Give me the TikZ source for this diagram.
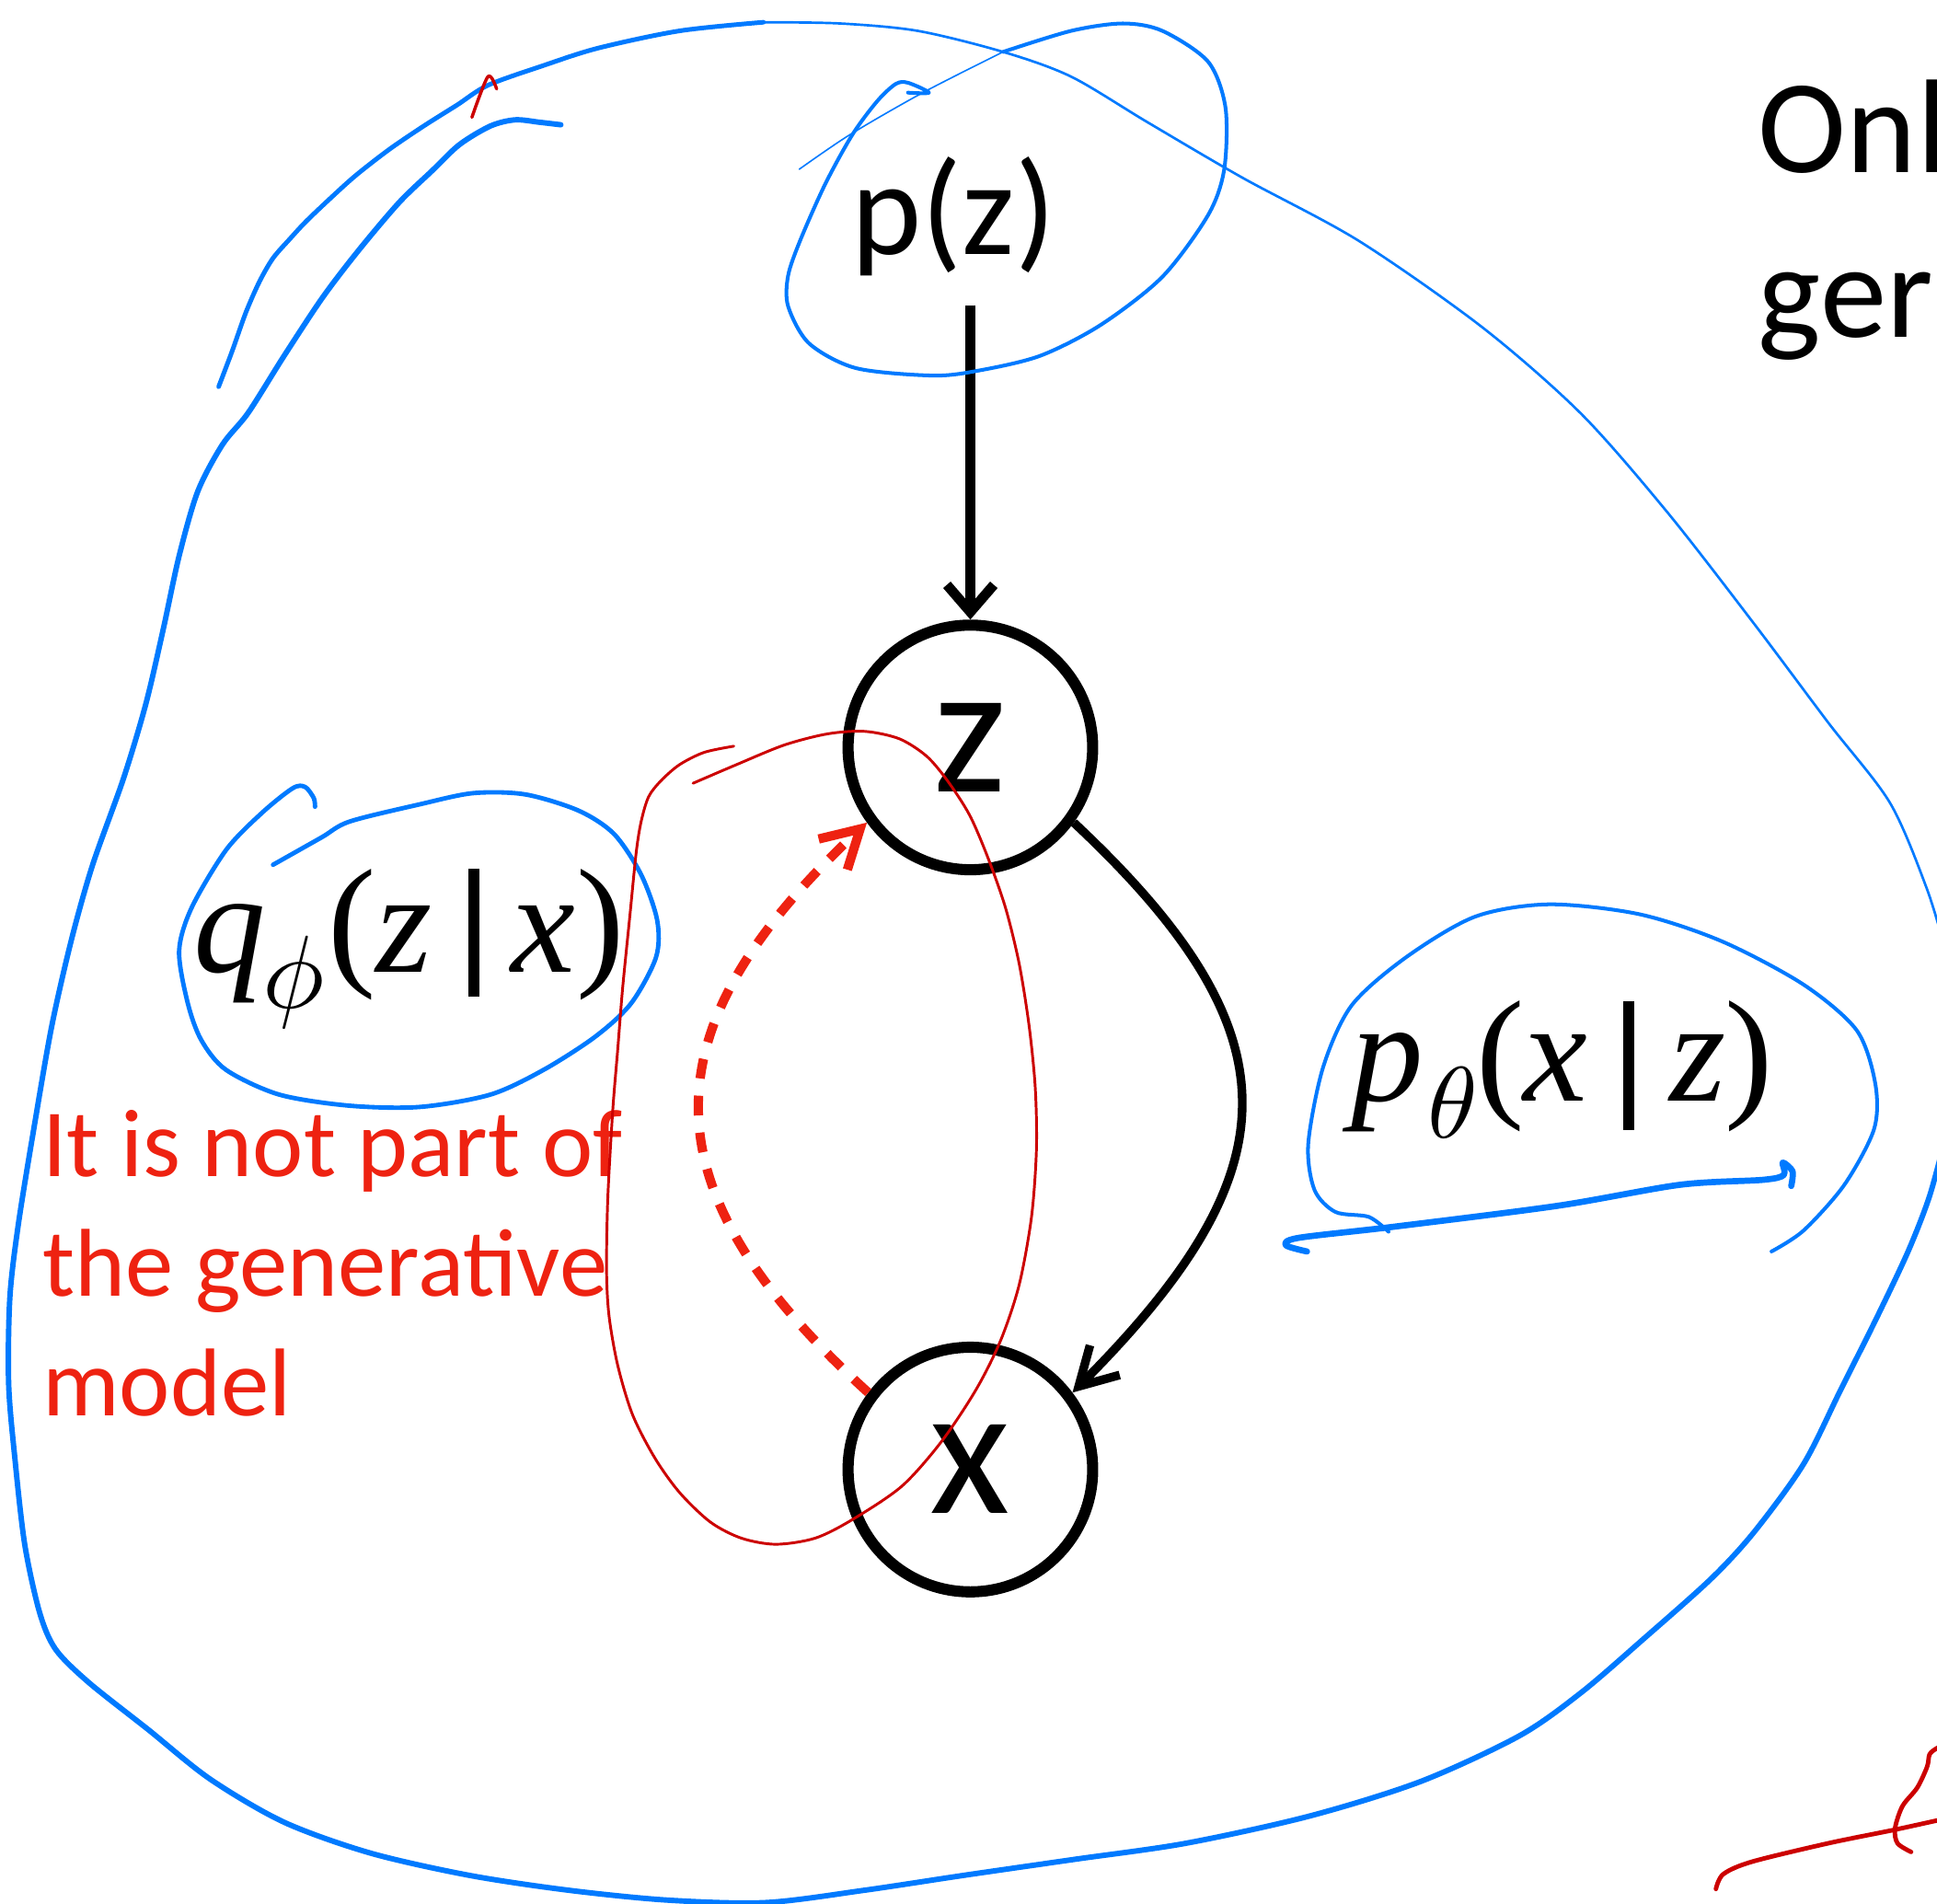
\documentclass[tikz,border=0pt]{standalone}
\usepackage{fontspec}
\usetikzlibrary{arrows.meta}
\newfontfamily\calibri{Carlito}
\newfontfamily\tms{Liberation Serif}
\definecolor{pen}{RGB}{0,122,255}
\definecolor{redpen}{RGB}{204,0,0}
\definecolor{redtxt}{RGB}{238,34,17}
\begin{document}
\begin{tikzpicture}[x=0.5pt,y=-0.5pt,
  bst/.style={draw=pen, line cap=round, line join=round},
  rst/.style={draw=redpen, line cap=round, line join=round},
  glyph/.style={inner sep=0, anchor=base, font=\tms\itshape\fontsize{58.5}{58.5}\selectfont},
  paren/.style={inner sep=0, anchor=base, font=\tms\fontsize{58.5}{58.5}\selectfont},
  greek/.style={inner sep=0, anchor=base},
  gbar/.style={fill=black, inner sep=0, minimum width=4.5pt, minimum height=52pt},
  sans/.style={inner sep=0, font=\calibri\fontsize{54}{54}\selectfont},
  redtext/.style={inner sep=0, anchor=base west, text=redtxt, font=\calibri\fontsize{39}{39}\selectfont},
  var/.style={circle, draw=black, line width=4.5pt, minimum size=99pt, inner sep=0, font=\calibri\fontsize{75}{75}\selectfont},
  blkarrow/.style={draw=black, -{Straight Barb[length=15pt,width=17pt]}},
  redarrow/.style={draw=redtxt, line width=3.75pt, dash pattern=on 8pt off 7pt, -{Straight Barb[length=15pt,width=17pt]}}
]
\useasboundingbox (0,0) rectangle (1568,1541);
\fill[white] (0,0) rectangle (1568,1541);
\clip (0,0) rectangle (1568,1541);

% graph nodes
\node[var] (z) at (785.5,605) {z};
\node[var] (x) at (785.5,1189.5) {x};
\node[sans, anchor=base] (pz) at (772,206) {p(z)};

% connectors
\draw[blkarrow, line width=4pt, -{Straight Barb[length=11pt,width=19pt]}] ([yshift=-20.5pt]pz.base -| z.north) -- (z.north);
\draw[blkarrow, line width=3.5pt] (z.-36) .. controls (1052,837) and (1048,947) .. (x.37);
\draw[redarrow] (x.143) .. controls (521,962) and (521,835) .. (z.216);

% q_phi(z|x)
\node[glyph] (q) at (186,787) {q};
\node[greek] (phi) at (238,816) {\scalebox{4.2}{$\phi$}};
\node[paren] (ql) at (285,785) {(};
\node[glyph] (qz) at (327,787) {z};
\node[gbar] (qbar) at (383.5,755) {};
\node[glyph] (qx) at (440,787) {x};
\node[paren] (qr) at (486,785) {)};

% p_theta(x|z)
\node[glyph] (p) at (1123,891) {p};
\node[greek] (theta) at (1176,921) {\scalebox{4.1}{$\theta$}};
\node[paren] (pl) at (1215,891) {(};
\node[glyph] (px) at (1259,891) {x};
\node[gbar] (pbar) at (1318.5,862.5) {};
\node[glyph] (pzz) at (1374,891) {z};
\node[paren] (pr) at (1416,891) {)};

% texts
\node[sans, anchor=base west] (onl) at (1423,140) {Onl};
\node[sans, anchor=base west] (ger) at (1423,273) {ger};
\node[redtext] (t1) at (34,952) {It is not part of};
\node[redtext] (t2) at (34,1049) {the generative};
\node[redtext] (t3) at (34,1146) {model};

% blue hand strokes
\draw[bst, line width=1.85pt] plot[smooth] coordinates {(177,313) (188,284) (199,253) (210,228) (221,209) (235,193) (248,179) (268,160) (288,142) (315,121) (343,102) (370,85) (395,69) (440,53) (484,39) (550,25) (618,18)};
\draw[bst, line width=1pt] plot[smooth] coordinates {(618,18) (680,19) (743,25) (812,42) (867,62) (929,99) (1006,144) (1100,195) (1200,265) (1280,335) (1350,415) (1420,505) (1480,585) (1530,650) (1560,720) (1575,770)};
\draw[bst, line width=2.2pt] plot[smooth] coordinates {(1575,920) (1562,968) (1545,1012) (1520,1065) (1490,1125) (1460,1185) (1420,1240) (1385,1278) (1330,1327) (1280,1370) (1230,1405) (1150,1442) (1060,1470) (960,1492) (870,1505) (780,1518) (700,1530) (620,1540) (540,1538) (460,1530) (380,1518) (300,1500) (230,1475) (170,1440) (120,1400) (72,1362) (45,1335) (32,1305) (20,1250) (12,1180) (7,1120) (8,1050) (15,990) (28,910) (42,830) (58,760) (75,700) (100,630) (118,570) (132,510) (145,450) (160,398) (180,360) (201,334) (230,288) (261,241) (290,203) (323,164) (350,138) (372,117) (397,102) (417,97) (437,99) (454,101)};
% p(z) loop
\draw[bst, line width=0.6pt] plot[smooth] coordinates {(647,137) (688,109) (747,75) (812,42)};
\draw[bst, line width=1.5pt] plot[smooth] coordinates {(812,42) (867,25) (909,19) (941,25) (978,50) (992,87) (991,137) (978,174) (941,224) (891,263) (842,288) (792,300) (755,304) (693,298) (655,278) (638,248) (638,223) (648,194) (668,149) (690,109) (710,82) (725,68) (735,67) (752,75) (735,75)};
% q loop
\draw[bst, line width=1.8pt] plot[smooth] coordinates {(221,700) (260,678) (283,665) (340,651) (383,642) (425,643) (468,656) (497,675) (519,708) (532,745) (531,775) (511,812) (482,839) (440,866) (397,886) (340,896) (283,895) (226,886) (183,866) (163,842) (152,812) (145,770) (155,735) (183,688) (212,658) (237,638) (247,637) (254,646) (255,653)};
% p_theta loop and underline
\draw[bst, line width=1.5pt] plot[smooth] coordinates {(1434,1013) (1460,996) (1493,959) (1517,914) (1518,877) (1503,834) (1460,797) (1394,762) (1327,740) (1254,732) (1194,742) (1138,775) (1094,814) (1071,864) (1059,926) (1064,963) (1081,981) (1108,985) (1124,997)};
\draw[bst, line width=2.5pt] plot[smooth] coordinates {(1058,1013) (1041,1008) (1051,1002) (1128,993) (1261,976) (1360,959) (1427,955) (1444,951) (1443,941) (1451,948) (1450,960)};

% red hand strokes
\draw[rst, line width=1.1pt] plot[smooth] coordinates {(561,634) (596,619) (635,603) (670,594) (700,592) (728,598) (750,612) (767,632) (785,660) (800,695) (814,735) (825,780) (833,830) (838,880) (839,930) (835,985) (825,1040) (810,1085) (790,1125) (762,1167) (730,1203) (690,1230) (660,1245) (628,1250) (600,1245) (575,1232) (550,1208) (530,1180) (512,1145) (500,1105) (493,1065) (491,1028) (492,970) (496,899) (500,850) (504,800) (510,740) (515,690) (519,665) (525,645) (535,632) (550,619) (570,609) (594,604)};
\draw[rst, line width=1.3pt] plot[smooth] coordinates {(382,95) (395,62) (402,72)};
\draw[rst, line width=1.8pt] plot[smooth] coordinates {(1389,1529) (1395,1517) (1418,1507) (1480,1492) (1534,1481) (1575,1472)};
\draw[rst, line width=1.8pt] plot[smooth] coordinates {(1547,1499) (1536,1492) (1534,1480) (1540,1462) (1552,1447) (1560,1430) (1562,1420) (1568,1415) (1575,1412)};
\end{tikzpicture}
\end{document}
